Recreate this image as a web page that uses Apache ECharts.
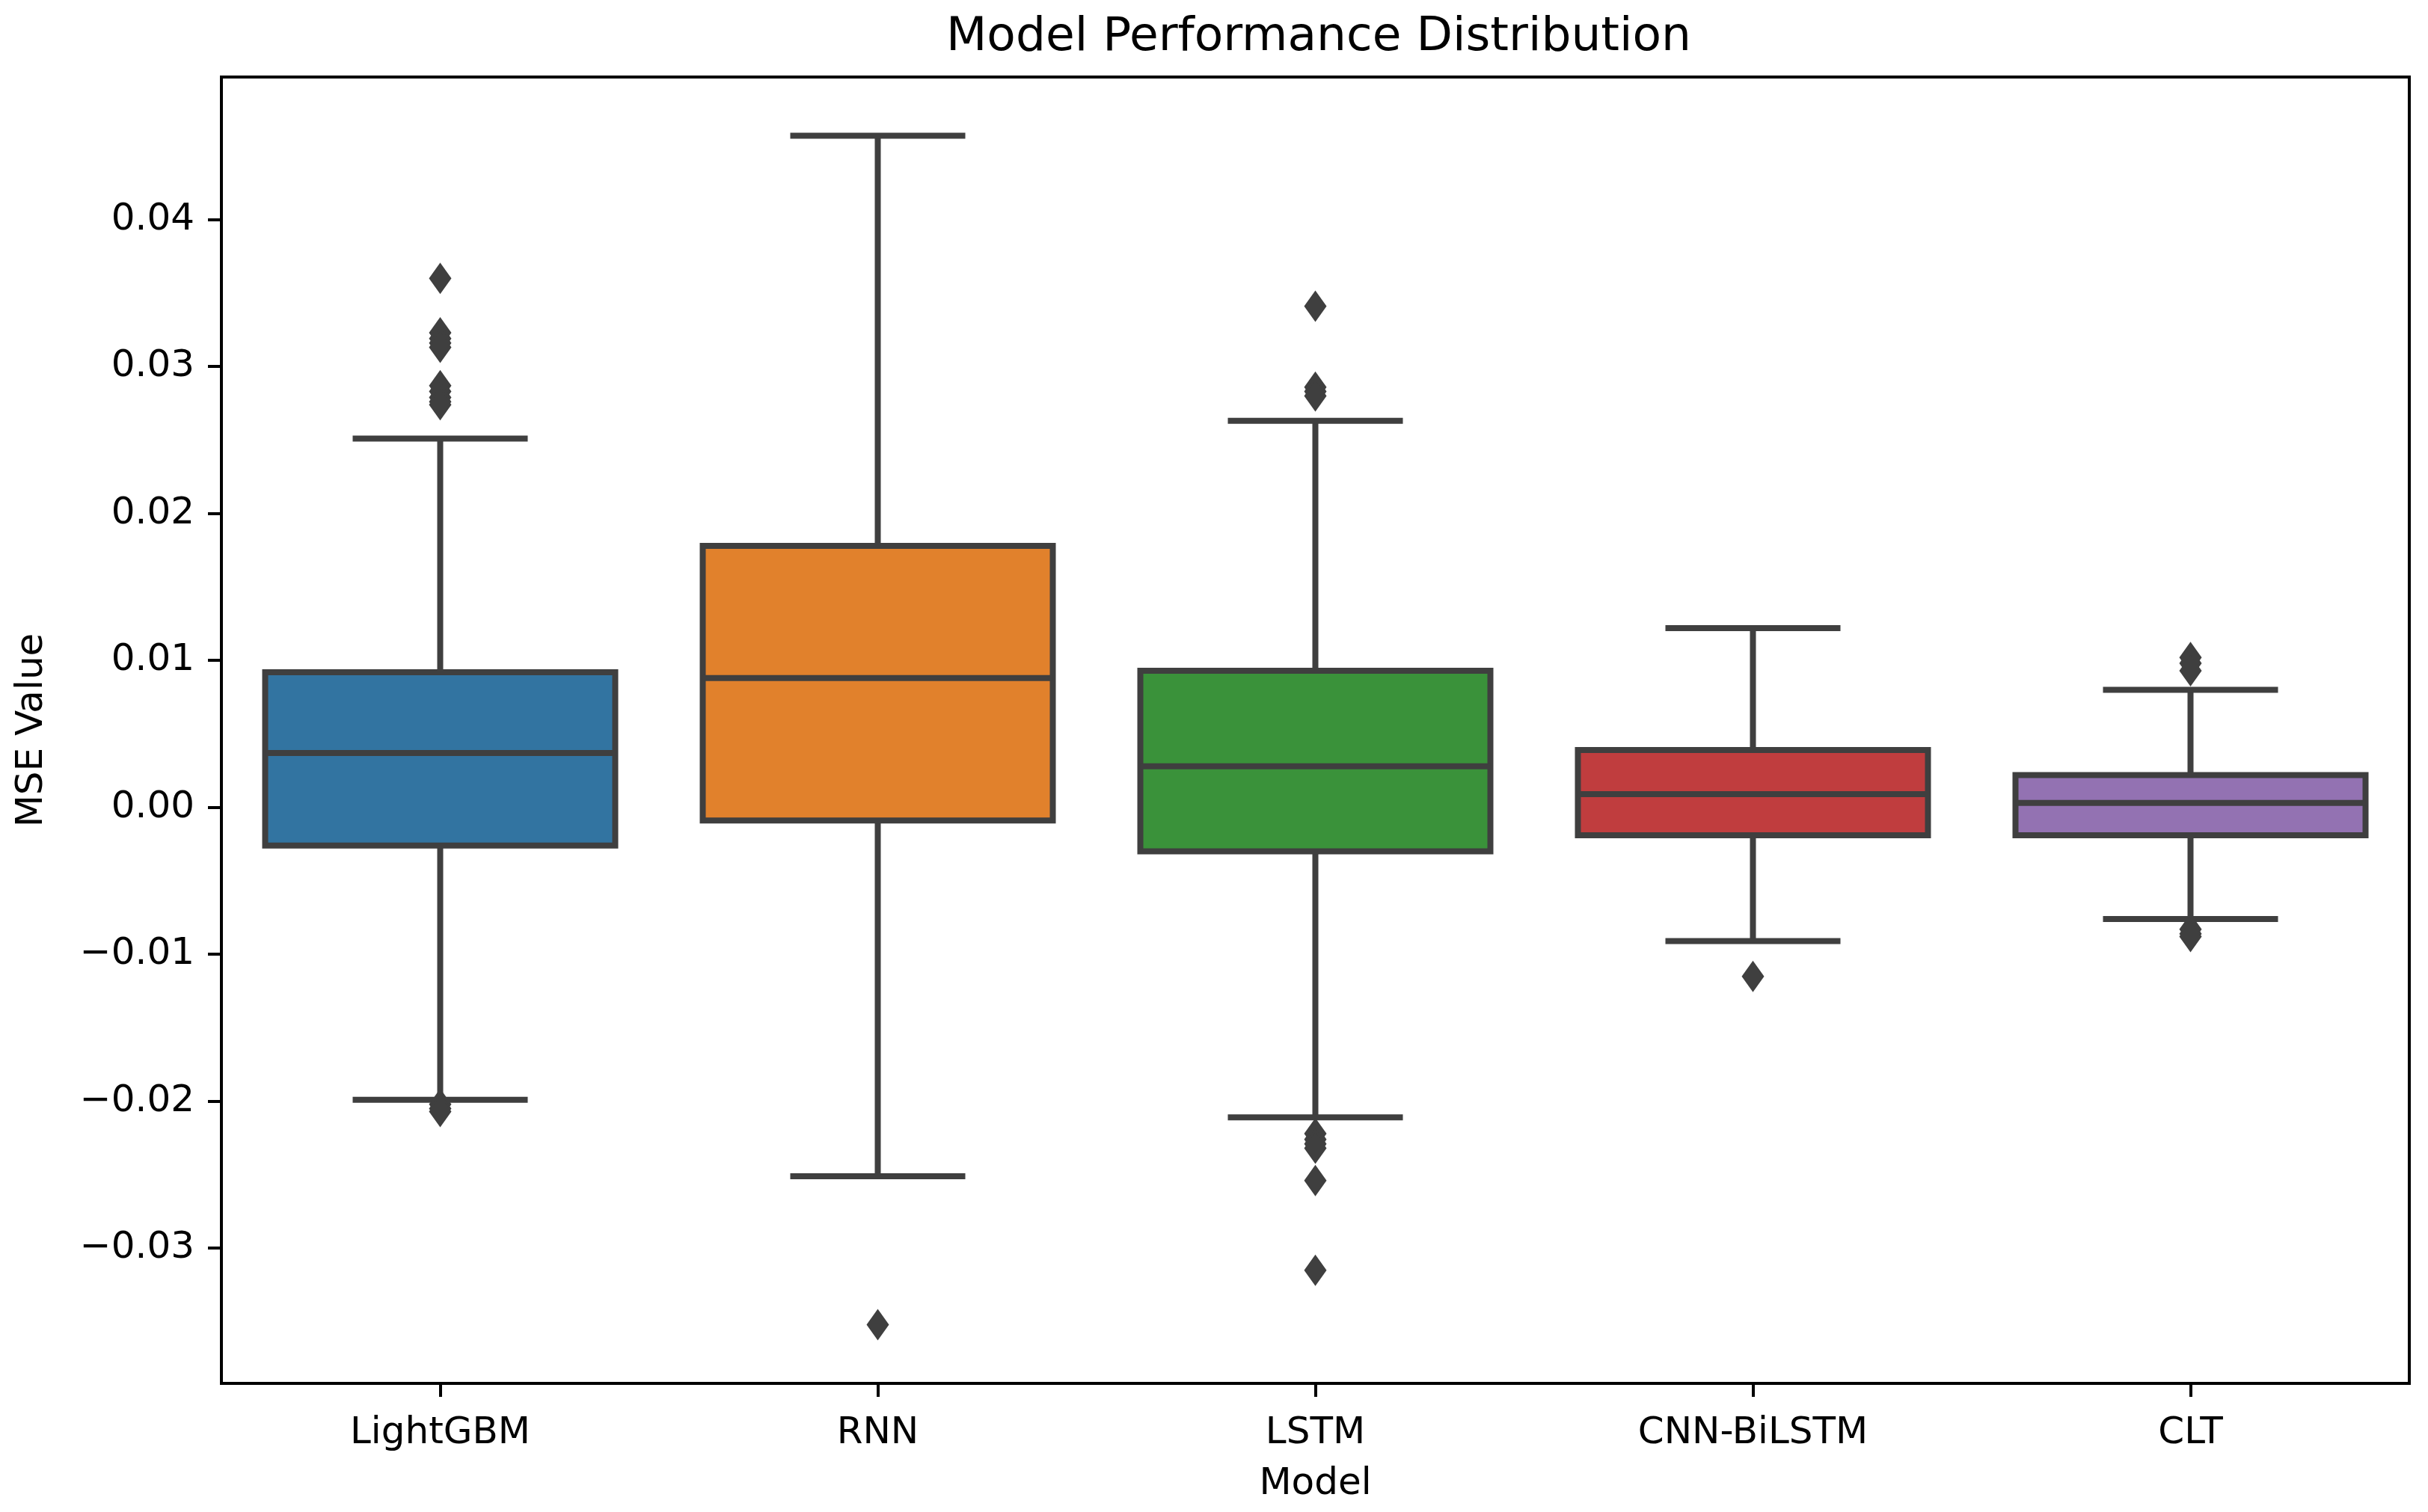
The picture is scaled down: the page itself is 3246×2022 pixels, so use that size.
<!DOCTYPE html>
<html>
<head>
<meta charset="utf-8">
<script src="https://cdn.jsdelivr.net/npm/echarts@6/dist/echarts.min.js"></script>
<style>
  html, body { margin: 0; padding: 0; background: #fff; }
  #chart { width: 3246px; height: 2022px; }
</style>
</head>
<body>
<div id="chart"></div>
<script>
// ---- Data ----
const models = ['LightGBM', 'RNN', 'LSTM', 'CNN-BiLSTM', 'CLT'];
const whiskerLow  = [-0.0199, -0.0251, -0.0211, -0.0091, -0.0076];
const quartile1   = [-0.0026, -0.0009, -0.0030, -0.0019, -0.0019];
const medians     = [ 0.0037,  0.0088,  0.0028,  0.0009,  0.0003];
const quartile3   = [ 0.0092,  0.0178,  0.0093,  0.0039,  0.0022];
const whiskerHigh = [ 0.0251,  0.0457,  0.0263,  0.0122,  0.0080];

const outliersLightGBM  = [0.0360, 0.0323, 0.0319, 0.0316, 0.0313, 0.0287, 0.0283, 0.0279, 0.0276, 0.0274, -0.0202, -0.0205, -0.0207];
const outliersRNN       = [-0.0352];
const outliersLSTM      = [0.0341, 0.0286, 0.0283, 0.0280, -0.0222, -0.0226, -0.0229, -0.0232, -0.0254, -0.0315];
const outliersCNNBiLSTM = [-0.0115];
const outliersCLT       = [0.0102, 0.0098, 0.0093, -0.0083, -0.0086, -0.0088];

const yTickValues = [-0.03, -0.02, -0.01, 0.00, 0.01, 0.02, 0.03, 0.04];
const yMin = -0.0392, yMax = 0.0497;

// ---- Styles ----
const palette = ['#3274a1', '#e1812c', '#3a923a', '#c03d3e', '#9372b2'];
const edgeColor = '#3f3f3f';
const lineW = 8;
const FONT = 'DejaVu Sans';

const boxData = models.map((m, i) => [i, whiskerLow[i], quartile1[i], medians[i], quartile3[i], whiskerHigh[i]]);
const outlierSets = [outliersLightGBM, outliersRNN, outliersLSTM, outliersCNNBiLSTM, outliersCLT];
const outlierData = [];
outlierSets.forEach((arr, i) => arr.forEach(v => outlierData.push([i, v])));

function fmt(v) {
  const s = Math.abs(v).toFixed(2);
  return (v < -1e-9 ? '\u2212' : '') + s;
}

function renderBox(params, api) {
  const idx = api.value(0);
  const pLow = api.coord([idx, api.value(1)]);
  const pQ1 = api.coord([idx, api.value(2)]);
  const pMed = api.coord([idx, api.value(3)]);
  const pQ3 = api.coord([idx, api.value(4)]);
  const pHigh = api.coord([idx, api.value(5)]);
  const band = api.size([1, 0])[0];
  const bw = band * 0.8;
  const cw = bw * 0.5;
  const cx = pQ1[0];
  const ls = { stroke: edgeColor, lineWidth: lineW };
  return {
    type: 'group',
    children: [
      { type: 'line', shape: { x1: cx, y1: pQ3[1], x2: cx, y2: pHigh[1] }, style: ls },
      { type: 'line', shape: { x1: cx, y1: pQ1[1], x2: cx, y2: pLow[1] }, style: ls },
      { type: 'line', shape: { x1: cx - cw / 2, y1: pHigh[1], x2: cx + cw / 2, y2: pHigh[1] }, style: ls },
      { type: 'line', shape: { x1: cx - cw / 2, y1: pLow[1], x2: cx + cw / 2, y2: pLow[1] }, style: ls },
      { type: 'rect', shape: { x: cx - bw / 2, y: pQ3[1], width: bw, height: pQ1[1] - pQ3[1] },
        style: { fill: palette[params.dataIndex], stroke: edgeColor, lineWidth: lineW } },
      { type: 'line', shape: { x1: cx - bw / 2, y1: pMed[1], x2: cx + bw / 2, y2: pMed[1] }, style: ls }
    ]
  };
}

const chart = echarts.init(document.getElementById('chart'), null, { renderer: 'canvas' });
chart.setOption({
  backgroundColor: '#ffffff',
  animation: false,
  title: {
    text: 'Model Performance Distribution',
    left: 1758,
    textAlign: 'center',
    top: 14,
    textStyle: { fontFamily: FONT, fontSize: 63, fontWeight: 'normal', color: '#000' }
  },
  grid: {
    left: 296, right: 25, top: 103, bottom: 172,
    show: true, borderColor: '#000', borderWidth: 4, backgroundColor: 'transparent'
  },
  xAxis: {
    type: 'category',
    data: models,
    boundaryGap: true,
    name: 'Model',
    nameLocation: 'middle',
    nameGap: 110,
    nameTextStyle: { fontFamily: FONT, fontSize: 50, color: '#000' },
    axisLine: { show: true, onZero: false, lineStyle: { color: '#000', width: 4 } },
    axisTick: { show: true, alignWithLabel: true, length: 18, lineStyle: { color: '#000', width: 4 } },
    axisLabel: { fontFamily: FONT, fontSize: 50, color: '#000', margin: 42 },
    splitLine: { show: false }
  },
  yAxis: {
    type: 'value',
    min: yMin,
    max: yMax,
    name: 'MSE Value',
    nameLocation: 'middle',
    nameGap: 228,
    nameTextStyle: { fontFamily: FONT, fontSize: 50, color: '#000' },
    axisLine: { show: true, onZero: false, lineStyle: { color: '#000', width: 4 } },
    axisTick: { show: true, length: 18, lineStyle: { color: '#000', width: 4 }, customValues: yTickValues },
    axisLabel: { fontFamily: FONT, fontSize: 50, color: '#000', margin: 36, customValues: yTickValues, formatter: fmt },
    splitLine: { show: false }
  },
  series: [
    {
      type: 'custom',
      renderItem: renderBox,
      data: boxData,
      encode: { x: 0, y: [1, 2, 3, 4, 5] },
      z: 2
    },
    {
      type: 'scatter',
      data: outlierData,
      symbol: 'diamond',
      symbolSize: [30, 42],
      itemStyle: { color: edgeColor, opacity: 1 },
      z: 3
    }
  ]
});
</script>
</body>
</html>
